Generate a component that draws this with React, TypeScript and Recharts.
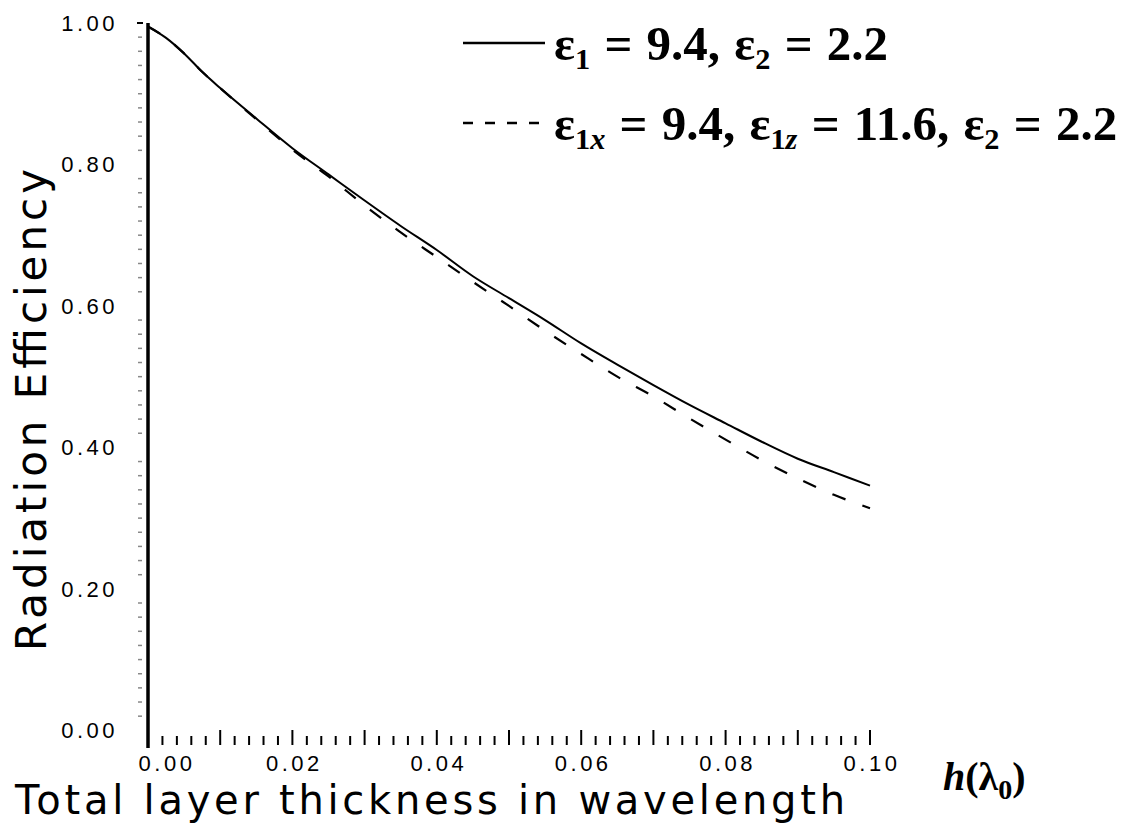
import React from 'react';
import { LineChart, Line, XAxis, YAxis, Legend, Label } from 'recharts';

// total layer thickness h, in free-space wavelengths
const thickness = [
  0, 0.0025, 0.005, 0.0075, 0.01, 0.015, 0.02, 0.025, 0.03, 0.035, 0.04,
  0.045, 0.05, 0.055, 0.06, 0.065, 0.07, 0.075, 0.08, 0.085, 0.09, 0.095, 0.1,
];

// eps1 = 9.4, eps2 = 2.2 (isotropic layer)
const effIsotropic = [
  0.995, 0.979, 0.957, 0.931, 0.908, 0.865, 0.823, 0.786, 0.749, 0.713, 0.679,
  0.642, 0.611, 0.58, 0.547, 0.517, 0.488, 0.46, 0.434, 0.408, 0.384, 0.365, 0.346,
];

// eps1x = 9.4, eps1z = 11.6, eps2 = 2.2 (uniaxial layer)
const effUniaxial = [
  0.995, 0.979, 0.957, 0.931, 0.908, 0.864, 0.821, 0.783, 0.742, 0.704, 0.669,
  0.634, 0.6, 0.565, 0.532, 0.5, 0.472, 0.441, 0.411, 0.382, 0.356, 0.333, 0.314,
];

const xMajorTicks = [0, 0.02, 0.04, 0.06, 0.08, 0.1];
const xTickLabels = ['0.00', '0.02', '0.04', '0.06', '0.08', '0.10'];
const yMajorTicks = [0, 0.2, 0.4, 0.6, 0.8, 1.0];
const yTickLabels = ['0.00', '0.20', '0.40', '0.60', '0.80', '1.00'];

const data = thickness.map((h, i) => ({
  h,
  iso: effIsotropic[i],
  uni: effUniaxial[i],
}));

// fine tick marks along both axes
const xMinorTicks: number[] = [];
for (let i = 0; i <= 50; i++) xMinorTicks.push(Math.round(i * 2) / 1000);
const yMinorTicks: number[] = [];
for (let i = 0; i <= 50; i++) yMinorTicks.push(Math.round(i * 2) / 100);

const tickFont = "'Liberation Sans', Arial, sans-serif";
const labelFont = "'DejaVu Sans', sans-serif";
const serif = "'Liberation Serif', 'Times New Roman', serif";

const XTick = ({ x, y, payload }: any) => {
  const v = payload.value;
  const idx = xMajorTicks.findIndex((t) => Math.abs(t - v) < 1e-6);
  const tall = Math.abs(Math.round(v * 100) - v * 100) < 1e-6;
  return (
    <g>
      {v > 0 && (
        <line x1={x} x2={x} y1={y - 3} y2={y - (tall ? 18 : 12)} stroke="#000" strokeWidth={2} />
      )}
      {idx >= 0 && (
        <text
          x={idx === 0 ? x + 19 : x + 2}
          y={y + 23}
          textAnchor="middle"
          fontFamily={tickFont}
          fontSize={22}
          letterSpacing={3.5}
          fill="#000"
        >
          {xTickLabels[idx]}
        </text>
      )}
    </g>
  );
};

const YTick = ({ x, y, payload }: any) => {
  const v = payload.value;
  const idx = yMajorTicks.findIndex((t) => Math.abs(t - v) < 1e-6);
  return (
    <g>
      {idx >= 0 ? (
        <text
          x={x - 30}
          y={y + 8}
          textAnchor="end"
          fontFamily={tickFont}
          fontSize={22}
          letterSpacing={3.5}
          fill="#000"
        >
          {yTickLabels[idx]}
        </text>
      ) : (
        <line x1={x - 10} x2={x - 6} y1={y} y2={y} stroke="#888" strokeWidth={1.5} />
      )}
      {idx === 5 && <line x1={x - 11} x2={x - 5} y1={y} y2={y} stroke="#000" strokeWidth={2} />}
    </g>
  );
};

const YTitle = () => (
  <text
    transform="translate(46, 410) rotate(-90)"
    textAnchor="middle"
    fontFamily={labelFont}
    fontSize={42}
    textLength={482}
    lengthAdjust="spacing"
    fill="#000"
  >
    Radiation Efficiency
  </text>
);

const XTitle = () => (
  <g>
    <text
      x={15}
      y={814}
      fontFamily={labelFont}
      fontSize={40}
      textLength={830}
      lengthAdjust="spacing"
      fill="#000"
    >
      Total layer thickness in wavelength
    </text>
    <text x={943} y={790} fontFamily={serif} fontSize={40} fontWeight="bold" fill="#000">
      <tspan fontStyle="italic">h</tspan>
      <tspan>(λ</tspan>
      <tspan fontSize={28} dy={9}>0</tspan>
      <tspan dy={-9}>)</tspan>
    </text>
  </g>
);

const subStyle: React.CSSProperties = {
  fontSize: '0.62em',
  verticalAlign: 'baseline',
  position: 'relative',
  top: '0.32em',
  lineHeight: 0,
};

const legendText: Record<string, React.ReactNode> = {
  iso: (
    <>
      ε<span style={subStyle}>1</span> = 9.4, ε<span style={subStyle}>2</span> = 2.2
    </>
  ),
  uni: (
    <>
      ε<span style={subStyle}>1<i>x</i></span> = 9.4, ε<span style={subStyle}>1<i>z</i></span> = 11.6,
      ε<span style={subStyle}>2</span> = 2.2
    </>
  ),
};

const legendDash: Record<string, string | undefined> = { iso: undefined, uni: '10 12' };

const LegendBox = ({ payload }: any) => (
  <div style={{ fontFamily: serif, fontWeight: 'bold', fontSize: 49, wordSpacing: 2, color: '#000' }}>
    {(payload || []).map((entry: any) => (
      <div
        key={entry.dataKey}
        style={{ display: 'flex', alignItems: 'center', whiteSpace: 'nowrap', height: 80 }}
      >
        <svg width={98} height={20}>
          <line
            x1={7}
            x2={89}
            y1={10}
            y2={10}
            stroke="#000"
            strokeWidth={2.5}
            strokeDasharray={legendDash[entry.dataKey]}
          />
        </svg>
        <span>{legendText[entry.dataKey]}</span>
      </div>
    ))}
  </div>
);

export default function App() {
  return (
    <div style={{ position: 'absolute', left: 0, top: 0, background: '#fff' }}>
      <LineChart width={1130} height={828} data={data} margin={{ top: 23, right: 260, bottom: 50, left: 88 }}>
        <XAxis
          dataKey="h"
          type="number"
          domain={[0, 0.1]}
          ticks={xMinorTicks}
          interval={0}
          axisLine={false}
          tickLine={false}
          tickSize={0}
          tickMargin={0}
          height={30}
          tick={<XTick />}
          label={<Label content={<XTitle />} />}
        />
        <YAxis
          type="number"
          domain={[-0.025, 1]}
          ticks={yMinorTicks}
          interval={0}
          allowDataOverflow
          axisLine={{ stroke: '#000', strokeWidth: 3.5 }}
          tickLine={false}
          tickSize={0}
          tickMargin={0}
          width={60}
          tick={<YTick />}
          label={<Label content={<YTitle />} />}
        />
        <Legend
          content={<LegendBox />}
          layout="vertical"
          align="center"
          verticalAlign="middle"
          wrapperStyle={{ position: 'absolute', left: 456, top: 3, width: 680 }}
        />
        <Line
          dataKey="iso"
          type="monotone"
          stroke="#000"
          strokeWidth={2}
          dot={false}
          isAnimationActive={false}
        />
        <Line
          dataKey="uni"
          type="monotone"
          stroke="#000"
          strokeWidth={2.2}
          strokeDasharray="14 18"
          dot={false}
          isAnimationActive={false}
        />
      </LineChart>
    </div>
  );
}
